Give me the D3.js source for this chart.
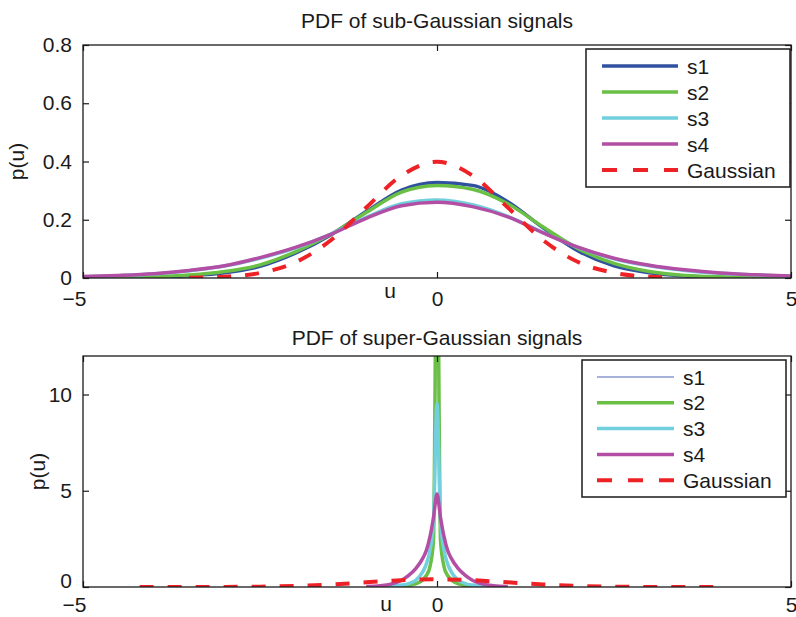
<!DOCTYPE html>
<html><head><meta charset="utf-8">
<script src="https://cdn.jsdelivr.net/npm/d3@7"></script>
<style>
html,body{margin:0;padding:0;background:#fff;}
svg{display:block;font-family:"Liberation Sans",Arial,Helvetica,sans-serif;}
</style></head>
<body><svg id="c" width="796" height="617"></svg>
<script>
// ---------- data: top panel (sub-Gaussian) ----------
const subU  = [-5,-4.5,-4,-3.5,-3,-2.5,-2,-1.5,-1,-0.5,0,0.5,1,1.5,2,2.5,3,3.5,4,4.5,5];
const subS1 = [0.001,0.001,0.003,0.008,0.018,0.040,0.085,0.148,0.228,0.302,0.328,0.318,0.262,0.172,0.092,0.042,0.018,0.007,0.003,0.001,0.001];
const subS2 = [0.001,0.002,0.004,0.010,0.022,0.045,0.090,0.150,0.225,0.295,0.318,0.305,0.255,0.175,0.100,0.050,0.022,0.009,0.004,0.002,0.001];
const subS3 = [0.004,0.008,0.014,0.025,0.041,0.068,0.103,0.151,0.208,0.255,0.268,0.252,0.212,0.156,0.104,0.066,0.042,0.026,0.016,0.010,0.006];
const subS4 = [0.005,0.009,0.015,0.026,0.042,0.070,0.105,0.150,0.205,0.248,0.260,0.245,0.210,0.155,0.105,0.068,0.044,0.028,0.017,0.011,0.007];
const subGU = [-3.5,-3,-2.5,-2,-1.5,-1,-0.5,0,0.5,1,1.5,2,2.5,3,3.35];
const subG  = [0.0009,0.0044,0.0175,0.054,0.1295,0.242,0.352,0.399,0.352,0.242,0.1295,0.054,0.0175,0.0044,0.0015];

// ---------- data: bottom panel (super-Gaussian) ----------
const supU  = [-1,-0.8,-0.6,-0.5,-0.4,-0.3,-0.2,-0.15,-0.1,-0.05,0,0.05,0.1,0.15,0.2,0.3,0.4,0.5,0.6,0.8,1];
const supS1 = [null,null,0.005,0.02,0.05,0.13,0.32,0.52,0.95,2.20,16.0,2.20,0.95,0.52,0.32,0.13,0.05,0.02,0.005,null,null];
const supS2 = [null,null,0.01,0.03,0.07,0.17,0.38,0.60,1.05,2.40,20.0,2.40,1.05,0.60,0.38,0.17,0.07,0.03,0.01,null,null];
const supS3 = [null,0.015,0.05,0.10,0.18,0.35,0.80,1.20,1.90,3.40,9.55,3.40,1.90,1.20,0.80,0.35,0.18,0.10,0.05,0.015,null];
const supS4 = [0.02,0.06,0.20,0.35,0.60,0.95,1.50,1.90,2.60,3.60,4.83,3.60,2.60,1.90,1.50,0.95,0.60,0.35,0.20,0.06,0.02];
const supGU = [-4.2,-3.5,-3,-2.5,-2,-1.5,-1,-0.5,0,0.5,1,1.5,2,2.5,3,3.5,4.1];
const supG  = [0.0001,0.0009,0.0044,0.0175,0.054,0.1295,0.242,0.352,0.399,0.352,0.242,0.1295,0.054,0.0175,0.0044,0.0009,0.0001];

const seriesNames = ["s1","s2","s3","s4","Gaussian"];
const xTicks = [-5,0,5];
const yTicksTop = [0,0.2,0.4,0.6,0.8];
const yTicksBot = [0,5,10];
const titles = ["PDF of sub-Gaussian signals","PDF of super-Gaussian signals"];

// ---------- styling ----------
const colors = {s1:"#3050a0", s2:"#6abf45", s3:"#72cfdd", s4:"#b24fa4", Gaussian:"#ee2226"};
const svg = d3.select("#c");
const ink = "#1a1a1a";
const FS = 21;

function panel(cfg){
  const {L,R,T,B,yMax,yTicks,yFmt,title,titleY,ylabX,series,legend,uLab,id,xPad,zeroLift} = cfg;
  const x = d3.scaleLinear().domain([-5,5]).range([L,R]);
  const y = d3.scaleLinear().domain([0,yMax]).range([B,T]);
  const g = svg.append("g");

  svg.append("clipPath").attr("id",id).append("rect")
     .attr("x",L).attr("y",T).attr("width",R-L).attr("height",B-T);

  const col = s => s.color || colors[s.name];

  // curves
  const cg = g.append("g").attr("clip-path",`url(#${id})`);
  series.forEach(s=>{
    const pts = s.u.map((u,i)=>[u,s.v[i]]).filter(d=>d[1]!==null);
    const line = d3.line().x(d=>x(d[0])).y(d=>y(d[1])).curve(d3.curveMonotoneX);
    cg.append("path").attr("d",line(pts)).attr("fill","none")
      .attr("stroke",col(s)).attr("stroke-width",s.w)
      .attr("stroke-dasharray",s.dash||null)
      .attr("stroke-linejoin","round");
  });

  // axes (inward ticks, mirrored)
  const ax = (a)=>a.tickSizeOuter(0);
  const gb = g.append("g").attr("transform",`translate(0,${B})`)
    .call(ax(d3.axisBottom(x).tickValues(xTicks).tickSize(-6).tickPadding(xPad)
      .tickFormat(d=>d<0?"\u2212"+Math.abs(d):d)));
  gb.selectAll(".tick text").filter(d=>d<0).attr("text-anchor","end").attr("dx","3");
  g.append("g").attr("transform",`translate(0,${T})`)
    .call(ax(d3.axisTop(x).tickValues(xTicks).tickSize(-6).tickFormat("")));
  const gl = g.append("g").attr("transform",`translate(${L},0)`)
    .call(ax(d3.axisLeft(y).tickValues(yTicks).tickSize(-6).tickPadding(11).tickFormat(yFmt)));
  gl.selectAll(".tick text").filter(d=>d===0).attr("y",-zeroLift);
  g.append("g").attr("transform",`translate(${R},0)`)
    .call(ax(d3.axisRight(y).tickValues(yTicks).tickSize(-6).tickFormat("")));
  g.selectAll(".domain").remove();
  g.selectAll(".tick line").attr("stroke",ink).attr("stroke-width",1.2);
  g.selectAll(".tick text").attr("fill",ink).style("font-size",FS+"px")
    .style("font-family","'Liberation Sans',Arial,sans-serif");

  g.append("rect").attr("x",L).attr("y",T).attr("width",R-L).attr("height",B-T)
   .attr("fill","none").attr("stroke",ink).attr("stroke-width",1.3);

  // labels
  g.append("text").attr("x",(L+R)/2).attr("y",titleY).attr("text-anchor","middle")
   .attr("fill",ink).style("font-size",FS+"px").text(title);
  g.append("text").attr("transform",`translate(${ylabX},${(T+B)/2}) rotate(-90)`)
   .attr("text-anchor","middle").attr("fill",ink).style("font-size",FS+"px").text("p(u)");
  g.append("text").attr("x",uLab[0]).attr("y",uLab[1]).attr("text-anchor","middle")
   .attr("fill",ink).style("font-size",FS+"px").text("u");

  // legend
  const lg = g.append("g");
  lg.append("rect").attr("x",legend.x0).attr("y",legend.y0)
    .attr("width",legend.x1-legend.x0).attr("height",legend.y1-legend.y0)
    .attr("fill","#fff").attr("stroke",ink).attr("stroke-width",1.5);
  series.forEach((s,i)=>{
    const yy = legend.r0 + i*legend.dr;
    lg.append("line").attr("x1",legend.l0).attr("x2",legend.l1).attr("y1",yy).attr("y2",yy)
      .attr("stroke",col(s)).attr("stroke-width",s.w)
      .attr("stroke-dasharray",s.dash?"15,16":null);
    lg.append("text").attr("x",legend.tx).attr("y",yy).attr("dy","0.36em")
      .attr("fill",ink).style("font-size",FS+"px").text(s.name);
  });
}

const dash = "14,14";
panel({
  id:"clipTop", L:83, R:791, T:45, B:278, yMax:0.8, yTicks:yTicksTop, xPad:13, zeroLift:0,
  yFmt:d=>d===0?"0":d3.format(".1f")(d), title:titles[0], titleY:28, ylabX:24,
  uLab:[390,298],
  series:[
    {name:seriesNames[0],u:subU,v:subS1,w:3.5},
    {name:seriesNames[1],u:subU,v:subS2,w:3.5},
    {name:seriesNames[2],u:subU,v:subS3,w:3.5},
    {name:seriesNames[3],u:subU,v:subS4,w:3.5},
    {name:seriesNames[4],u:subGU,v:subG,w:4,dash:dash}
  ],
  legend:{x0:586,x1:790,y0:49,y1:187,r0:66,dr:26,l0:602,l1:678,tx:687}
});
panel({
  id:"clipBot", L:83, R:791, T:356, B:587, yMax:12, yTicks:yTicksBot, xPad:10, zeroLift:6,
  yFmt:d=>String(d), title:titles[1], titleY:345, ylabX:45,
  uLab:[386,611],
  series:[
    {name:seriesNames[0],u:supU,v:supS1,w:1.5,color:"#8a98cf"},
    {name:seriesNames[1],u:supU,v:supS2,w:3.5},
    {name:seriesNames[2],u:supU,v:supS3,w:3.5},
    {name:seriesNames[3],u:supU,v:supS4,w:3.5},
    {name:seriesNames[4],u:supGU,v:supG,w:4,dash:dash}
  ],
  legend:{x0:582,x1:786,y0:360,y1:497,r0:377,dr:25.8,l0:597,l1:674,tx:683}
});
</script></body></html>
